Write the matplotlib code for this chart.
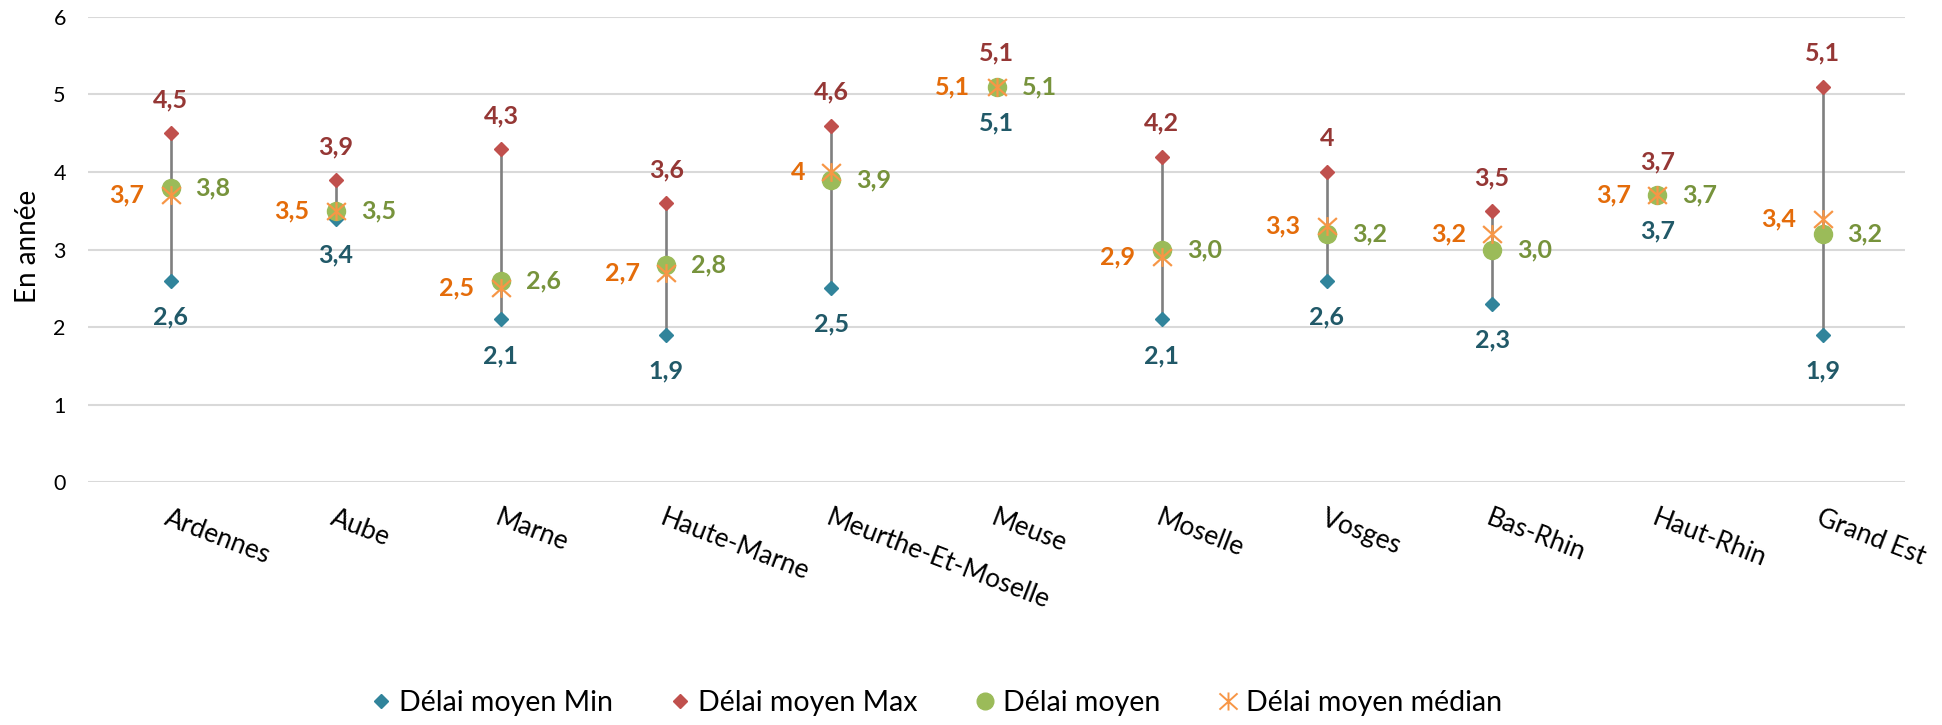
import matplotlib.pyplot as plt
from matplotlib.path import Path
from matplotlib.lines import Line2D

plt.rcParams['font.family'] = ['Lato', 'DejaVu Sans']

# data
departements = ['Ardennes', 'Aube', 'Marne', 'Haute-Marne', 'Meurthe-Et-Moselle',
                'Meuse', 'Moselle', 'Vosges', 'Bas-Rhin', 'Haut-Rhin', 'Grand Est']
delai_min = [2.6, 3.4, 2.1, 1.9, 2.5, 5.1, 2.1, 2.6, 2.3, 3.7, 1.9]
delai_max = [4.5, 3.9, 4.3, 3.6, 4.6, 5.1, 4.2, 4.0, 3.5, 3.7, 5.1]
delai_moyen = [3.8, 3.5, 2.6, 2.8, 3.9, 5.1, 3.0, 3.2, 3.0, 3.7, 3.2]
delai_median = [3.7, 3.5, 2.5, 2.7, 4.0, 5.1, 2.9, 3.3, 3.2, 3.7, 3.4]

c_min, c_min_txt = '#31849B', '#215968'
c_max, c_max_txt = '#C0504D', '#953735'
c_moy, c_moy_txt = '#9BBB59', '#77933C'
c_med, c_med_txt = '#F79646', '#E46C0A'

# excel "star" marker : X with a vertical bar
star = Path([(-1, -0.9), (1, 0.9), (-1, 0.9), (1, -0.9), (0, -1), (0, 1)],
            [Path.MOVETO, Path.LINETO, Path.MOVETO, Path.LINETO, Path.MOVETO, Path.LINETO])

def fr(v, fmt='{:g}'):
    return fmt.format(v).replace('.', ',')

fig = plt.figure(figsize=(19.42, 7.25), dpi=100)
ax = fig.add_axes([0.0453, 0.335, 0.9357, 0.6416])

x = list(range(len(departements)))

ax.vlines(x, delai_min, delai_max, color='#7F7F7F', lw=1.9, zorder=2)
ax.plot(x, delai_min, 'D', ms=7.5, color=c_min, ls='none', zorder=3)
ax.plot(x, delai_max, 'D', ms=7.5, color=c_max, ls='none', zorder=3)
ax.plot(x, delai_moyen, 'o', ms=13, color=c_moy, ls='none', zorder=4)
ax.plot(x, delai_median, marker=star, ms=13.5, mew=1.6, color=c_med, mfc='none',
        ls='none', zorder=5)

lab = dict(textcoords='offset points', va='center', fontsize=18, fontweight='bold')
for i in x:
    ax.annotate(fr(delai_max[i]), (i, delai_max[i]), xytext=(0, 24), ha='center',
                color=c_max_txt, **lab)
    ax.annotate(fr(delai_min[i]), (i, delai_min[i]), xytext=(0, -26), ha='center',
                color=c_min_txt, **lab)
    ax.annotate(fr(delai_moyen[i], '{:.1f}'), (i, delai_moyen[i]), xytext=(18, 0),
                ha='left', color=c_moy_txt, **lab)
    ax.annotate(fr(delai_median[i]), (i, delai_median[i]), xytext=(-19, 0),
                ha='right', color=c_med_txt, **lab)

ax.set_xlim(-0.5, len(departements) - 0.5)
ax.set_ylim(0, 6)
ax.set_yticks(range(7))
ax.set_xticks(x)
ax.set_xticklabels(departements, rotation=-21, ha='left', va='top', rotation_mode='anchor',
                   fontsize=19)
ax.tick_params(axis='x', length=0, pad=17)
ax.tick_params(axis='y', length=0, pad=16, labelsize=15.5)
ax.grid(axis='y', color='#D9D9D9', lw=1.5)
ax.set_axisbelow(True)
for s in ax.spines.values():
    s.set_visible(False)

fig.text(0.0145, 0.66, 'En année', rotation=90, ha='center', va='center', fontsize=20)

handles = [
    Line2D([], [], marker='D', ms=7.5, color=c_min, ls='none'),
    Line2D([], [], marker='D', ms=7.5, color=c_max, ls='none'),
    Line2D([], [], marker='o', ms=12, color=c_moy, ls='none'),
    Line2D([], [], marker=star, ms=13, mew=1.4, color=c_med, mfc='none', ls='none'),
]
fig.legend(handles, ['Délai moyen Min', 'Délai moyen Max', 'Délai moyen', 'Délai moyen médian'],
           loc='center', bbox_to_anchor=(0.4822, 0.03), ncol=4, frameon=False,
           fontsize=20.5, handletextpad=0.3, columnspacing=2.0, handlelength=0.7)

fig.savefig('out.png', dpi=100)
